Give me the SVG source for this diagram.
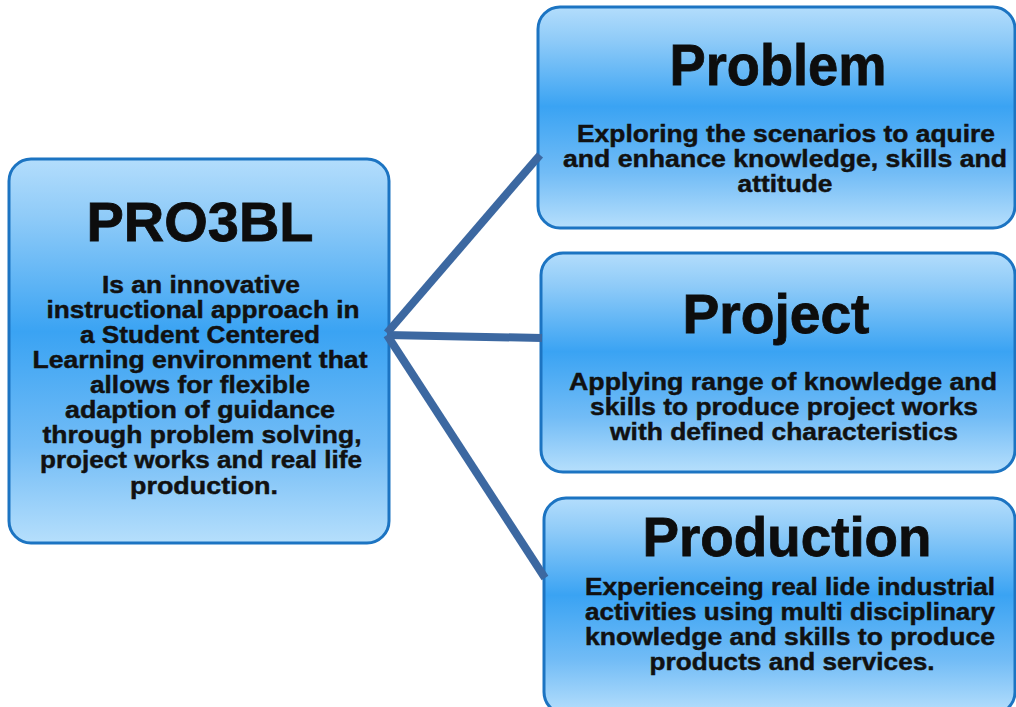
<svg xmlns="http://www.w3.org/2000/svg" width="1016" height="707" viewBox="0 0 1016 707">
  <defs>
    <linearGradient id="boxFill" x1="0" y1="0" x2="0" y2="1">
      <stop offset="0" stop-color="#b3ddfc"/>
      <stop offset="0.15" stop-color="#8fcbf8"/>
      <stop offset="0.45" stop-color="#3aa3f3"/>
      <stop offset="0.75" stop-color="#72bcf6"/>
      <stop offset="1" stop-color="#b6dffc"/>
    </linearGradient>
  </defs>
  <style>
    .box { fill: url(#boxFill); stroke: #1c74c2; stroke-width: 3; }
    .title { font-family: "Liberation Sans", Arial, Helvetica, sans-serif; font-weight: bold; fill: #0d0d0d; stroke: #0d0d0d; stroke-width: 0.8; text-anchor: middle; }
    .body { font-family: "Liberation Sans", Arial, Helvetica, sans-serif; font-weight: bold; font-size: 24px; fill: #111111; stroke: #111111; stroke-width: 0.45; text-anchor: middle; }
    .link { stroke: #3c68a1; stroke-width: 8; fill: none; stroke-linecap: butt; }
  </style>
  <rect width="1016" height="707" fill="#ffffff"/>

  <!-- central concept -->
  <g id="pro3bl">
    <rect class="box" x="9" y="159" width="380" height="384" rx="22" ry="22"/>
    <text class="title" x="200" y="241" font-size="55" textLength="227" lengthAdjust="spacingAndGlyphs">PRO3BL</text>
    <text class="body" x="201" y="293" textLength="198" lengthAdjust="spacingAndGlyphs">Is an innovative</text>
    <text class="body" x="203" y="318" textLength="313" lengthAdjust="spacingAndGlyphs">instructional approach in</text>
    <text class="body" x="200" y="343" textLength="240" lengthAdjust="spacingAndGlyphs">a Student Centered</text>
    <text class="body" x="200" y="368" textLength="335" lengthAdjust="spacingAndGlyphs">Learning environment that</text>
    <text class="body" x="200" y="393" textLength="220" lengthAdjust="spacingAndGlyphs">allows for flexible</text>
    <text class="body" x="200" y="418" textLength="270" lengthAdjust="spacingAndGlyphs">adaption of guidance</text>
    <text class="body" x="202" y="443" textLength="319" lengthAdjust="spacingAndGlyphs">through problem solving,</text>
    <text class="body" x="201" y="468" textLength="322" lengthAdjust="spacingAndGlyphs">project works and real life</text>
    <text class="body" x="204" y="494" textLength="148" lengthAdjust="spacingAndGlyphs">production.</text>
  </g>

  <g id="problem">
    <rect class="box" x="538" y="7" width="477" height="221" rx="22" ry="22"/>
    <text class="title" x="778" y="85" font-size="58" textLength="217" lengthAdjust="spacingAndGlyphs">Problem</text>
    <text class="body" x="786" y="142" textLength="418" lengthAdjust="spacingAndGlyphs">Exploring the scenarios to aquire</text>
    <text class="body" x="785" y="167" textLength="444" lengthAdjust="spacingAndGlyphs">and enhance knowledge, skills and</text>
    <text class="body" x="785" y="192" textLength="95" lengthAdjust="spacingAndGlyphs">attitude</text>
  </g>

  <g id="project">
    <rect class="box" x="541" y="253" width="474" height="219" rx="22" ry="22"/>
    <text class="title" x="776" y="333" font-size="56" textLength="187" lengthAdjust="spacingAndGlyphs">Project</text>
    <text class="body" x="783" y="390" textLength="428" lengthAdjust="spacingAndGlyphs">Applying range of knowledge and</text>
    <text class="body" x="784" y="415" textLength="388" lengthAdjust="spacingAndGlyphs">skills to produce project works</text>
    <text class="body" x="784" y="440" textLength="348" lengthAdjust="spacingAndGlyphs">with defined characteristics</text>
  </g>

  <g id="production">
    <rect class="box" x="544" y="498" width="471" height="216" rx="22" ry="22"/>
    <text class="title" x="787" y="556" font-size="56" textLength="289" lengthAdjust="spacingAndGlyphs">Production</text>
    <text class="body" x="790" y="595" textLength="410" lengthAdjust="spacingAndGlyphs">Experienceing real lide industrial</text>
    <text class="body" x="790" y="620" textLength="410" lengthAdjust="spacingAndGlyphs">activities using multi disciplinary</text>
    <text class="body" x="790" y="645" textLength="410" lengthAdjust="spacingAndGlyphs">knowledge and skills to produce</text>
    <text class="body" x="792" y="670" textLength="285" lengthAdjust="spacingAndGlyphs">products and services.</text>
  </g>

  <!-- links from the central concept to the three stages -->
  <g id="connectors">
    <line class="link" x1="387" y1="333" x2="540" y2="155"/>
    <line class="link" x1="387" y1="335" x2="542" y2="338"/>
    <line class="link" x1="387" y1="335" x2="545" y2="578"/>
  </g>
</svg>
